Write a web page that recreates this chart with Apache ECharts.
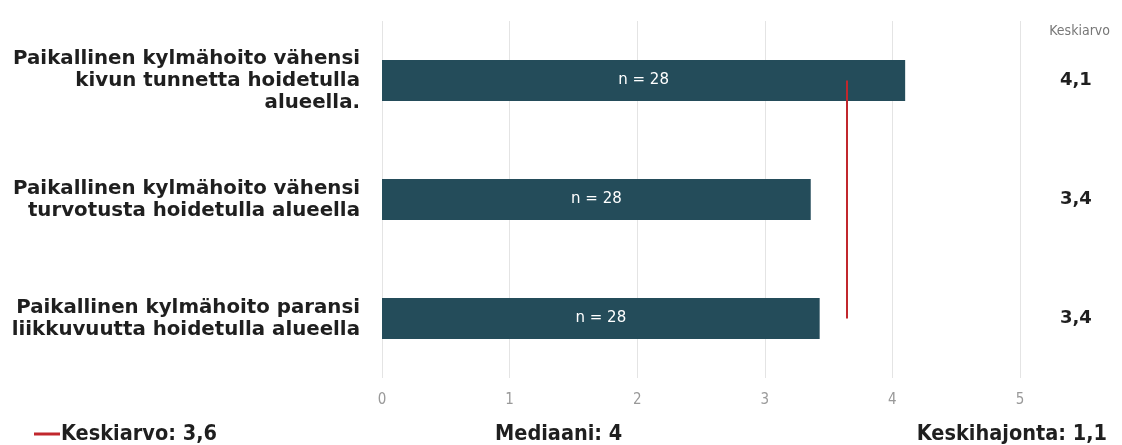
<!DOCTYPE html>
<html>
<head>
<meta charset="utf-8">
<script src="https://cdn.jsdelivr.net/npm/echarts@6/dist/echarts.min.js"></script>
<style>
  html, body { margin: 0; padding: 0; background: #fff; }
  #chart { width: 1122px; height: 445px; }
</style>
</head>
<body>
<div id="chart"></div>
<script>
// statements shown on the left
const categories = [
  'Paikallinen kylmähoito vähensi\nkivun tunnetta hoidetulla\nalueella.',
  'Paikallinen kylmähoito vähensi\nturvotusta hoidetulla alueella',
  'Paikallinen kylmähoito paransi\nliikkuvuutta hoidetulla alueella',
];
const barValues = [4.10, 3.36, 3.43];
const nCounts = [28, 28, 28];
const xTicks = [0, 1, 2, 3, 4, 5];

// summary numbers under the chart
const overallMean = [3.64];
const median = [4];
const stdDev = [1.1];

const fi = v => v.toFixed(1).replace('.', ',');

const BAR = '#244c5a';
const RED = '#c1272d';
const TXT = '#1f1f1f';
const NARROW = 'DejaVu Sans Condensed';
const footText = {fontFamily: NARROW, fontSize: 21.5, fontWeight: 'bold', color: TXT};

const chart = echarts.init(document.getElementById('chart'), null, {renderer: 'canvas'});

chart.setOption({
  animation: false,
  grid: {left: 382, right: 102, top: 21, bottom: 67},
  title: [
    {
      text: 'Keskiarvo',
      right: 7, top: 19,
      textStyle: {fontFamily: NARROW, fontSize: 14, fontWeight: 'normal', color: '#777'},
    },
    {
      text: '{dash|}{t|Keskiarvo: ' + fi(overallMean[0]) + '}',
      left: 29, top: 418,
      textStyle: {
        rich: {
          dash: {width: 26, height: 3, backgroundColor: RED, verticalAlign: 'middle'},
          t: Object.assign({padding: [0, 0, 0, 1]}, footText),
        },
      },
    },
    {
      text: 'Mediaani: ' + median[0],
      left: 490, top: 418,
      textStyle: footText,
    },
    {
      text: 'Keskihajonta: ' + fi(stdDev[0]),
      right: 10, top: 418,
      textStyle: footText,
    },
  ],
  xAxis: {
    type: 'value',
    min: xTicks[0], max: xTicks[xTicks.length - 1], interval: 1,
    axisLine: {show: false},
    axisTick: {show: false},
    splitLine: {show: true, lineStyle: {color: '#e4e4e4', width: 1}},
    axisLabel: {
      color: '#999', fontSize: 15, margin: 15,
      fontFamily: NARROW,
    },
  },
  yAxis: [
    {
      type: 'category',
      data: categories,
      inverse: true,
      axisLine: {show: false},
      axisTick: {show: false},
      axisLabel: {
        color: TXT, fontSize: 19.8, fontWeight: 'bold', lineHeight: 22,
        fontFamily: 'DejaVu Sans', align: 'right', margin: 22,
      },
    },
    {
      type: 'category',
      position: 'right',
      data: barValues.map(fi),
      inverse: true,
      axisLine: {show: false},
      axisTick: {show: false},
      axisLabel: {
        color: TXT, fontSize: 18, fontWeight: 'bold',
        fontFamily: 'DejaVu Sans', align: 'left', margin: 40,
      },
    },
  ],
  series: [
    {
      type: 'bar',
      data: barValues,
      barWidth: 41,
      itemStyle: {color: BAR},
      label: {
        show: true, position: 'inside',
        formatter: p => 'n = ' + nCounts[p.dataIndex],
        color: '#fff', fontSize: 15, fontFamily: 'DejaVu Sans',
      },
      markLine: {
        symbol: 'none', silent: true,
        label: {show: false},
        lineStyle: {color: RED, width: 2, type: 'solid'},
        data: [[
          {coord: [overallMean[0], categories[0]]},
          {coord: [overallMean[0], categories[categories.length - 1]]},
        ]],
      },
    },
  ],
});
</script>
</body>
</html>
